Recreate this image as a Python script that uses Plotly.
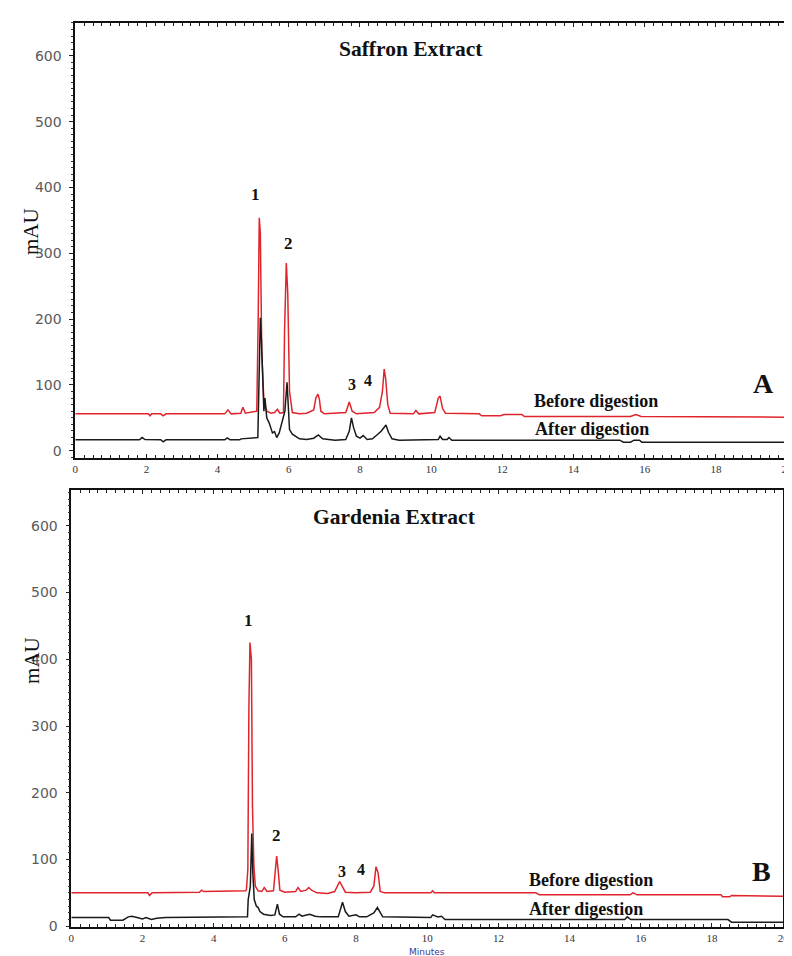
import plotly.graph_objects as go

W, H = 792, 956

# ---------------- data (retention time in minutes, absorbance in mAU) ----------------
# Panel A: Saffron extract, before digestion (red)
saf_before_t = [0, 2.05, 2.1, 2.15, 2.4, 2.47, 2.55, 4.2, 4.29, 4.38, 4.65, 4.71, 4.78,
                5.1, 5.14, 5.17, 5.2, 5.24, 5.3, 5.38, 5.5, 5.6, 5.68, 5.75,
                5.85, 5.88, 5.93, 5.97, 6.02, 6.1, 6.3, 6.5, 6.7, 6.76, 6.82, 6.86, 6.9, 7.0,
                7.6, 7.7, 7.78, 7.9, 8.1, 8.4, 8.55, 8.63, 8.68, 8.72, 8.78, 8.85,
                9.5, 9.57, 9.65, 10.1, 10.2, 10.25, 10.32, 10.4, 11.35, 11.42, 11.95,
                12.05, 12.55, 12.62, 15.6, 15.75, 15.9, 20]
saf_before_v = [56, 56, 53, 56, 56, 53, 56, 56, 62, 56, 57, 66, 57,
                60, 200, 354, 330, 150, 75, 60, 57, 58, 63, 57,
                58, 180, 285, 240, 90, 58, 56, 57, 62, 80, 86, 78, 60, 56,
                58, 74, 60, 56, 57, 58, 66, 90, 124, 110, 70, 57,
                56, 61, 56, 58, 80, 83, 64, 57, 56, 53, 53,
                55, 55, 52, 52, 55, 52, 51]

# Panel A: Saffron extract, after digestion (black)
saf_after_t = [0, 1.8, 1.88, 1.96, 2.4, 2.47, 2.55, 4.2, 4.27, 4.35, 4.62, 4.66,
               5.13, 5.16, 5.2, 5.23, 5.27, 5.3, 5.33, 5.38, 5.45, 5.54, 5.6, 5.66, 5.73,
               5.89, 5.95, 5.99, 6.02, 6.1, 6.3, 6.5, 6.7, 6.83, 6.95, 7.3, 7.6, 7.7, 7.76,
               7.82, 7.9, 8.0, 8.09, 8.2, 8.35, 8.5, 8.6, 8.73, 8.8, 8.9, 9.1, 10.2, 10.25,
               10.32, 10.45, 10.5, 10.58, 15.3, 15.4, 15.6, 15.7, 15.85, 15.92, 20]
saf_after_v = [16.6, 16.6, 20, 17, 16.6, 13.6, 16.6, 16.6, 19.6, 16.6, 16.6, 18,
               20, 130, 202, 170, 110, 60, 80, 50, 42, 27, 29, 20, 27,
               60, 104, 60, 32, 25, 18, 17, 19, 24, 18, 16, 17, 30, 50,
               35, 22, 19, 23, 17, 18, 25, 30, 39, 28, 18, 16, 17, 22,
               17, 17, 20, 16, 16, 13, 13, 16, 16, 13, 13]

# Panel B: Gardenia extract, before digestion (red)
gar_before_t = [0, 2.15, 2.2, 2.27, 3.6, 3.66, 3.72, 4.9, 4.92, 4.96, 4.99, 5.02, 5.06, 5.09,
                5.13, 5.17, 5.25, 5.35, 5.42, 5.5, 5.68, 5.72, 5.77, 5.81, 5.86, 6.0, 6.3,
                6.37, 6.45, 6.6, 6.67, 6.75, 6.9, 7.2, 7.4, 7.54, 7.62, 7.7, 8.0, 8.4, 8.5,
                8.56, 8.62, 8.68, 8.8, 10.1, 10.15, 10.2, 13.05, 13.15, 15.7, 15.78, 15.9,
                18.25, 18.3, 18.5, 18.55, 20]
gar_before_v = [50, 50, 46, 50, 51, 54, 52, 53, 55, 85, 330, 425, 400, 180,
                90, 60, 53, 52, 58, 52, 53, 75, 105, 85, 54, 51, 52,
                58, 52, 54, 58, 54, 50, 49, 52, 67, 60, 51, 50, 51, 60,
                89, 80, 52, 50, 50, 53, 50, 50, 47, 47, 50, 47,
                47, 44, 44, 46, 45]

# Panel B: Gardenia extract, after digestion (black)
gar_after_t = [0, 1.05, 1.1, 1.45, 1.6, 1.7, 1.85, 2.0, 2.1, 2.25, 2.4, 2.6, 2.65, 4.95,
               4.97, 5.03, 5.07, 5.1, 5.14, 5.2, 5.25, 5.3, 5.4, 5.6, 5.72, 5.79, 5.85, 5.95,
               6.3, 6.4, 6.48, 6.55, 6.7, 6.85, 7.0, 7.5, 7.62, 7.7, 7.8, 8.0, 8.1, 8.3,
               8.5, 8.6, 8.68, 8.75, 10.1, 10.15, 10.3, 10.4, 10.5, 15.55, 15.62, 15.72,
               18.45, 18.55, 20]
gar_after_v = [13, 13, 9, 9, 14, 15, 13, 11, 13, 10, 12, 12, 13, 14,
               40, 60, 139, 80, 40, 30, 28, 22, 18, 16, 17, 33, 18, 14,
               14, 18, 15, 16, 18, 15, 14, 14, 36, 22, 15, 17, 14, 14,
               20, 28, 20, 14, 13, 17, 14, 15, 10, 10, 14, 10,
               10, 6, 6]

x_ticks = [0, 2, 4, 6, 8, 10, 12, 14, 16, 18, 20]
y_ticks = [0, 100, 200, 300, 400, 500, 600]

panel_titles = ["Saffron Extract", "Gardenia Extract"]
panel_letters = ["A", "B"]
trace_labels = ["Before digestion", "After digestion"]
peak_labels = ["1", "2", "3", "4"]

RED = "#e0242c"
BLACK = "#1a1a1a"

fig = go.Figure()
fig.add_trace(go.Scatter(x=saf_before_t, y=saf_before_v, mode="lines",
                         line=dict(color=RED, width=1.5), xaxis="x", yaxis="y",
                         name="Saffron before digestion", showlegend=False))
fig.add_trace(go.Scatter(x=saf_after_t, y=saf_after_v, mode="lines",
                         line=dict(color=BLACK, width=1.5), xaxis="x", yaxis="y",
                         name="Saffron after digestion", showlegend=False))
fig.add_trace(go.Scatter(x=gar_before_t, y=gar_before_v, mode="lines",
                         line=dict(color=RED, width=1.5), xaxis="x2", yaxis="y2",
                         name="Gardenia before digestion", showlegend=False))
fig.add_trace(go.Scatter(x=gar_after_t, y=gar_after_v, mode="lines",
                         line=dict(color=BLACK, width=1.5), xaxis="x2", yaxis="y2",
                         name="Gardenia after digestion", showlegend=False))


def px(x):
    return x / W


def py(y):
    return 1 - y / H


def xaxis(dom, anchor):
    return dict(domain=dom, anchor=anchor, range=[0, 20], tickvals=x_ticks,
                ticks="inside", ticklen=4, tickcolor="#222", showgrid=False,
                zeroline=False, showline=True, linecolor="#111", linewidth=1.6,
                mirror="ticks", ticklabeloverflow="allow",
                minor=dict(dtick=0.25, ticks="inside", ticklen=3, tickcolor="#222"),
                tickfont=dict(family="Liberation Serif", size=11, color="#333"))


def yaxis(dom, anchor, rng):
    return dict(domain=dom, anchor=anchor, range=rng, tickvals=y_ticks,
                ticks="outside", ticklen=4, tickcolor="#222", showgrid=False,
                zeroline=False, showline=True, linecolor="#111", linewidth=1.6,
                mirror="ticks", ticklabelstandoff=5,
                minor=dict(dtick=10, ticks="outside", ticklen=2, tickcolor="#333"),
                tickfont=dict(family="DejaVu Sans", size=14, color="#5a5a5a"))


fig.update_layout(
    width=W, height=H, margin=dict(l=0, r=0, t=0, b=0),
    paper_bgcolor="white", plot_bgcolor="white",
    xaxis=xaxis([px(65), px(785)], "y"),
    yaxis=yaxis([py(453), py(15)], "x", [-10.6, 650]),
    xaxis2=xaxis([px(61), px(781)], "y2"),
    yaxis2=yaxis([py(926), py(486)], "x2", [-1.5, 653]),
)

serif = "Liberation Serif"
ann = []


def text(x, y, s, size, bold=True, color="#111", angle=0, fam=serif):
    ann.append(dict(x=px(x), y=py(y), xref="paper", yref="paper", text=(f"<b>{s}</b>" if bold else s),
                    showarrow=False, xanchor="center", yanchor="middle", textangle=angle,
                    font=dict(family=fam, size=size, color=color)))


# Panel A
text(405, 41, panel_titles[0], 21.5)
text(247, 188, peak_labels[0], 17)
text(281, 237, peak_labels[1], 17)
text(345, 379, peak_labels[2], 16)
text(361, 375, peak_labels[3], 16)
text(761, 378, panel_letters[0], 28)
text(592, 396, trace_labels[0], 18)
text(588, 424, trace_labels[1], 18)
text(21, 225, "mAU", 21, bold=False, angle=-90)

# Panel B
text(388, 513, panel_titles[1], 21.5)
text(240, 617, peak_labels[0], 17)
text(269, 834, peak_labels[1], 17)
text(335, 870, peak_labels[2], 16)
text(354, 868, peak_labels[3], 16)
text(759, 870, panel_letters[1], 28)
text(587, 878, trace_labels[0], 18)
text(582, 908, trace_labels[1], 18)
text(21, 657, "mAU", 21, bold=False, angle=-90)
text(421, 951, "Minutes", 9, bold=False, color="#3a3aa0", fam="DejaVu Sans")

fig.update_layout(annotations=ann)
fig.write_html("out.html")
